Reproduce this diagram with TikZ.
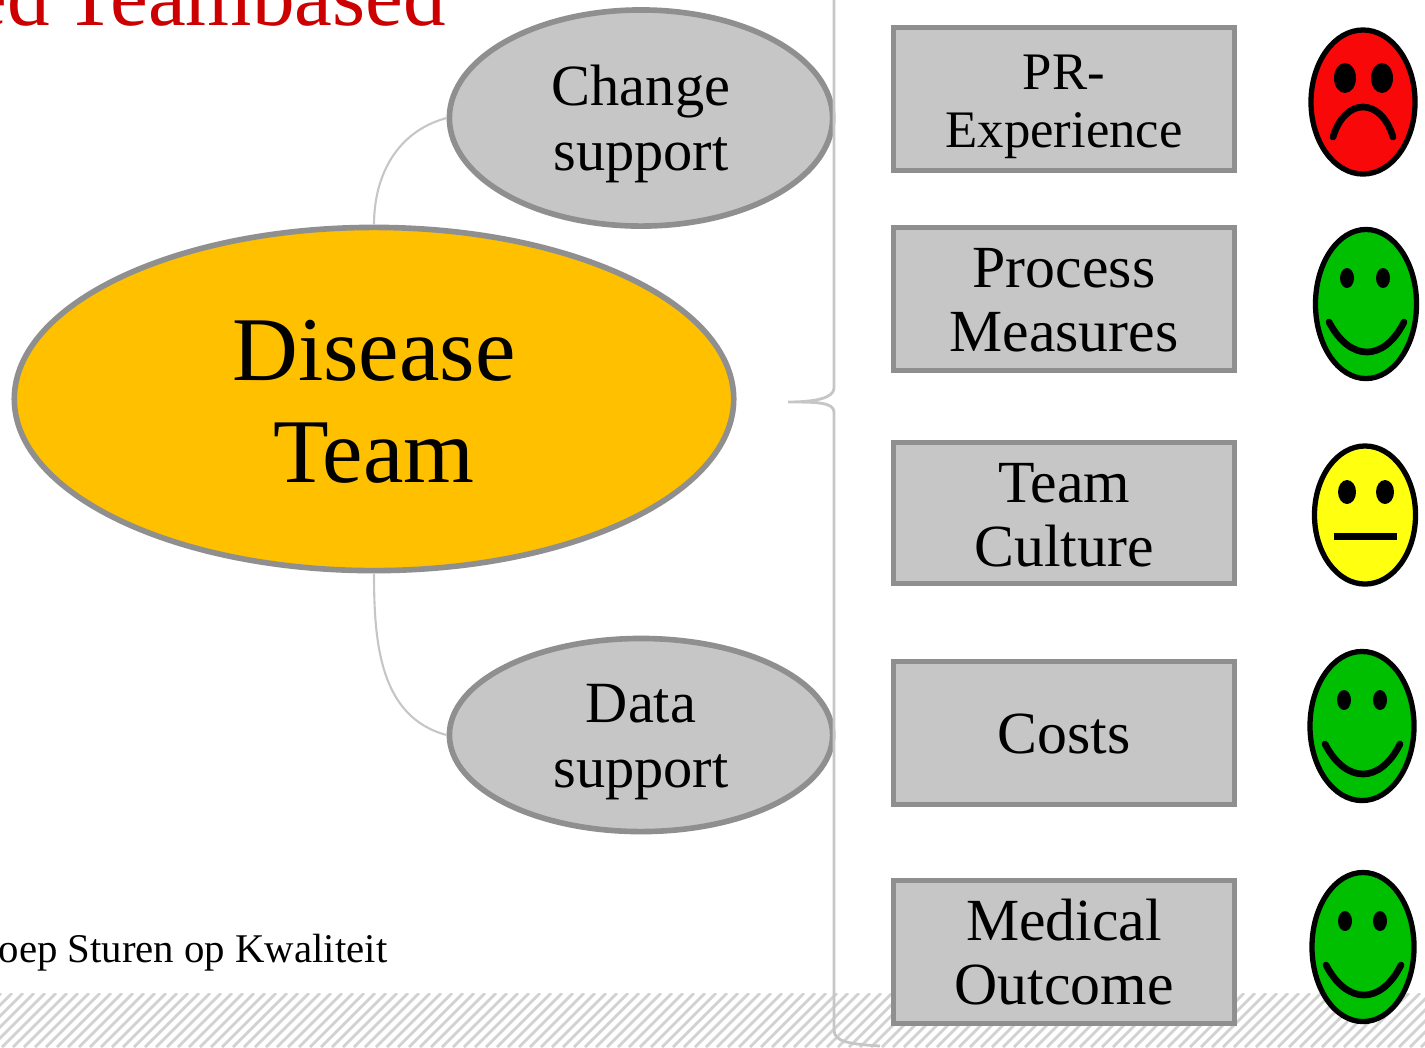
\documentclass[tikz,border=0pt]{standalone}
\usepackage{fontspec}
\setmainfont{Liberation Serif}
\usetikzlibrary{shapes.geometric}
\definecolor{rimgray}{HTML}{8F8F8F}
\definecolor{fillgray}{HTML}{C6C6C6}
\definecolor{linkgray}{HTML}{C6C6C6}
\definecolor{hatchgray}{HTML}{D2D2D2}
\definecolor{teamgold}{HTML}{FFC000}
\definecolor{titlered}{HTML}{CC0000}
\definecolor{facered}{HTML}{F80808}
\definecolor{facegreen}{HTML}{00BE00}
\definecolor{faceyellow}{HTML}{FFFF10}
\newcommand{\topgap}[1]{\rule{0pt}{#1}}
\tikzset{
  x=0.01cm,y=-0.01cm,
  team/.style={ellipse,draw=rimgray,line width=1.6pt,fill=teamgold,inner sep=0pt,minimum width=7.19cm,minimum height=3.43cm,align=center,font=\fontsize{25.9}{29}\selectfont},
  helper/.style={ellipse,draw=rimgray,line width=1.6pt,fill=fillgray,inner sep=0pt,minimum width=3.83cm,align=center,font=\fontsize{16.6}{18.5}\selectfont},
  measure/.style={rectangle,draw=rimgray,line width=1.6pt,fill=fillgray,inner sep=0pt,minimum width=3.41cm,minimum height=1.43cm,align=center,font=\fontsize{17}{18.3}\selectfont},
  link/.style={draw=linkgray,line width=0.6pt},
  head/.style={ellipse,draw=black,line width=1.5pt,inner sep=0pt},
  eye/.style={fill=black},
  mouth/.style={draw=black,line width=1.9pt,line cap=round}
}
\begin{document}
\begin{tikzpicture}
\useasboundingbox (0,0) rectangle (1425,1047);
\clip (0,0) rectangle (1425,1047);

\begin{scope}
\clip (0,993) rectangle (1425,1047);
\foreach \i in {-64,-53,...,1432}
  \draw[hatchgray,line width=0.8pt] (\i,1047) -- (\i+54,993);
\end{scope}

\node[anchor=base west,text=titlered,font=\fontsize{24.2}{26}\selectfont,inner sep=0pt] (title) at (-31,25) {ed\kern-2pt{} Teambased};
\node[anchor=base west,font=\fontsize{11.6}{14}\selectfont,inner sep=0pt] (footer) at (-2,962) {oep Sturen op Kwaliteit};

\node[team] (dt) at (374,399) {\topgap{18.5pt}Disease\\Team};
\node[helper,minimum height=2.16cm] (cs) at (641,118) {\topgap{14.7pt}Change\\support};
\node[helper,minimum height=1.93cm] (ds) at (641,735) {\topgap{15pt}Data\\support};

\node[measure,font=\fontsize{15}{16.5}\selectfont] (b1) at (1064,99) {\topgap{14.5pt}PR-\\Experience};
\node[measure] (b2) at (1064,299) {\topgap{11.8pt}Process\\Measures};
\node[measure,minimum height=1.41cm] (b3) at (1064,513) {\topgap{12.4pt}Team\\Culture};
\node[measure] (b4) at (1064,733) {\topgap{12pt}Costs};
\node[measure] (b5) at (1064,952) {Medical\\Outcome};

\draw[link] (dt.north) to[out=90,in=195] (cs.west);
\draw[link] (dt.south) to[out=270,in=165] (ds.west);

\coordinate (bracetop) at (834,-20);
\coordinate (bracetip) at (788,402);
\coordinate (braceend) at (880,1046);
\draw[link,line width=0.8pt] (bracetop) -- (834,388) .. controls (834,398) and (815,402) .. (bracetip)
  .. controls (815,402) and (834,402) .. (834,412) -- (834,1030) .. controls (834,1042) and (850,1044) .. (braceend);

\node[head,fill=facered,minimum width=1.04cm,minimum height=1.44cm] (f1) at (1363,102) {};
\fill[eye] (1345,78) ellipse (11 and 15) (1382,78) ellipse (11 and 15);
\draw[mouth] (1333,137) .. controls (1345,97) and (1381,97) .. (1393,137);

\node[head,fill=facegreen,minimum width=1.01cm,minimum height=1.49cm] (f2) at (1366,304) {};
\fill[eye] (1347,278) ellipse (7 and 10) (1383,278) ellipse (7 and 10);
\draw[mouth] (1329,322) .. controls (1350,362) and (1384,362) .. (1404,322);

\node[head,fill=faceyellow,minimum width=1.01cm,minimum height=1.38cm] (f3) at (1365,515) {};
\fill[eye] (1347,492) ellipse (9 and 12) (1385,492) ellipse (9 and 12);
\draw[mouth,line width=2pt,line cap=butt] (1334,536) -- (1397,536);

\node[head,fill=facegreen,minimum width=1.04cm,minimum height=1.49cm] (f4) at (1362,726) {};
\fill[eye] (1344,700) ellipse (7 and 10) (1380,700) ellipse (7 and 10);
\draw[mouth] (1325,744) .. controls (1346,784) and (1380,784) .. (1400,744);

\node[head,fill=facegreen,minimum width=1.02cm,minimum height=1.49cm] (f5) at (1363,947) {};
\fill[eye] (1345,921) ellipse (7 and 10) (1380,921) ellipse (7 and 10);
\draw[mouth] (1326,965) .. controls (1347,1005) and (1381,1005) .. (1401,965);
\end{tikzpicture}
\end{document}
